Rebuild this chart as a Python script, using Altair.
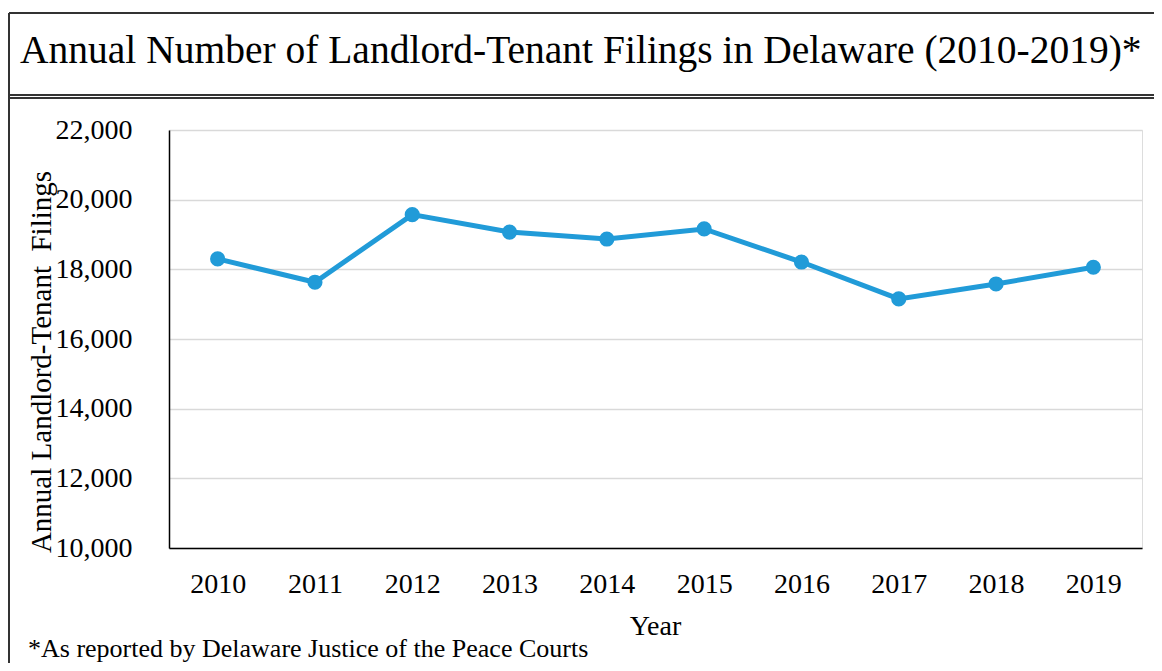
import altair as alt
import pandas as pd

years = ["2010", "2011", "2012", "2013", "2014", "2015", "2016", "2017", "2018", "2019"]
filings = [18300, 17630, 19570, 19070, 18870, 19160, 18210, 17150, 17580, 18060]
y_ticks = [10000, 12000, 14000, 16000, 18000, 20000, 22000]

title_text = "Annual Number of Landlord-Tenant Filings in Delaware (2010-2019)*"
y_title = "Annual Landlord-Tenant\u00a0 Filings"
x_title = "Year"
footnote = "*As reported by Delaware Justice of the Peace Courts"

FONT = "Liberation Serif"
LINE_COLOR = "#219BD8"
W, H = 973, 418

df = pd.DataFrame({"year": years, "filings": filings})

x_enc = alt.X("year:O", title=None,
              scale=alt.Scale(type="point", padding=0.5),
              axis=alt.Axis(labelAngle=0, labelFont=FONT, labelFontSize=28,
                            labelColor="black", labelPadding=22, ticks=False,
                            domainColor="black", domainWidth=1.5, grid=False))
y_enc = alt.Y("filings:Q", title=None,
              scale=alt.Scale(domain=[10000, 22000], nice=False, zero=False),
              axis=alt.Axis(values=y_ticks, format=",.0f", labelFont=FONT, labelFontSize=28,
                            labelColor="black", labelPadding=37, ticks=False,
                            domainColor="black", domainWidth=1.5,
                            gridColor="#d9d9d9", gridWidth=1.5))

line = alt.Chart(df).mark_line(color=LINE_COLOR, strokeWidth=5).encode(x=x_enc, y=y_enc)
pts = alt.Chart(df).mark_point(color=LINE_COLOR, filled=True, size=230, opacity=1).encode(
    x="year:O", y="filings:Q")

dummy = pd.DataFrame({"k": [0]})
base = alt.Chart(dummy)

frame_color = "#333333"
frames = [
    base.mark_rule(color=frame_color, strokeWidth=2).encode(
        x=alt.value(-160), y=alt.value(-117), y2=alt.value(560)),
    base.mark_rule(color=frame_color, strokeWidth=2).encode(
        x=alt.value(-160), x2=alt.value(1000), y=alt.value(-117)),
    base.mark_rule(color=frame_color, strokeWidth=2).encode(
        x=alt.value(-160), x2=alt.value(1000), y=alt.value(-35)),
    base.mark_rule(color=frame_color, strokeWidth=2).encode(
        x=alt.value(-160), x2=alt.value(1000), y=alt.value(-32)),
]

title_mark = base.mark_text(text=title_text, font=FONT, fontSize=39.5, align="left",
                            baseline="alphabetic", color="black").encode(
    x=alt.value(-149), y=alt.value(-67))
ytitle_mark = base.mark_text(text=y_title, font=FONT, fontSize=29, align="center",
                             baseline="middle", angle=270, color="black").encode(
    x=alt.value(-127), y=alt.value(232))
xtitle_mark = base.mark_text(text=x_title, font=FONT, fontSize=28, align="center",
                             baseline="middle", color="black").encode(
    x=alt.value(W / 2), y=alt.value(497))
foot_mark = base.mark_text(text=footnote, font=FONT, fontSize=26, align="left",
                           baseline="alphabetic", color="black").encode(
    x=alt.value(-141), y=alt.value(527))

chart = alt.layer(line, pts, *frames, title_mark, ytitle_mark, xtitle_mark, foot_mark).properties(
    width=W, height=H,
    padding={"left": 161, "top": 122, "right": 12, "bottom": 115},
    autosize=alt.AutoSizeParams(type="none"),
).configure_view(stroke=None).configure(background="white")

chart.save("out.html", embed_options={"renderer": "svg", "actions": False})
